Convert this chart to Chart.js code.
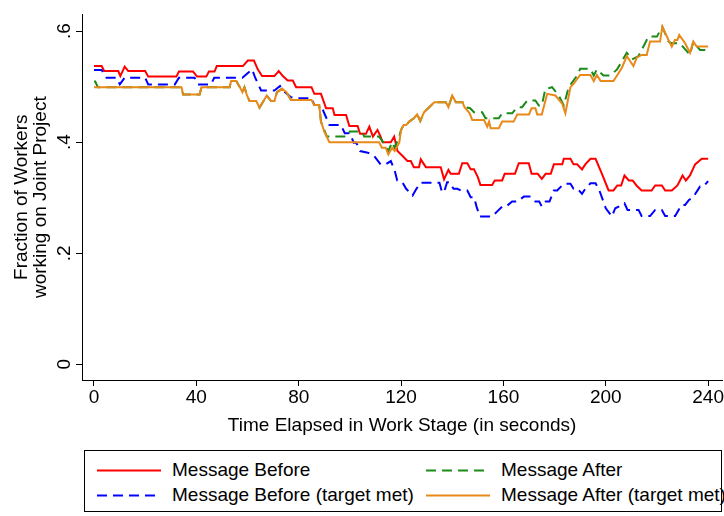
<!DOCTYPE html>
<html>
<head>
<meta charset="utf-8">
<script src="https://cdn.jsdelivr.net/npm/chart.js@4.4.1/dist/chart.umd.min.js"></script>
<style>
  body { margin: 0; background: #fff; font-family: "Liberation Sans", Arial, sans-serif; }
  #wrap { position: relative; width: 724px; height: 516px; }
  #chartBox { position: absolute; left: 0; top: 0; width: 724px; height: 440px; }
  #legend { position: absolute; left: 84px; top: 450px; width: 638px; height: 62px;
            border: 1px solid #000; box-sizing: border-box; }
  .item { position: absolute; height: 22px; font-size: 19px; line-height: 22px; color: #000; white-space: nowrap; }
  .item svg { position: absolute; left: 0; top: 10px; }
  .item span { position: absolute; left: 75px; top: 0; }
</style>
</head>
<body>
<div id="wrap">
  <div id="chartBox"><canvas id="chart"></canvas></div>
  <div id="legend"></div>
</div>
<script>
// Axes
const xTicks = [0, 40, 80, 120, 160, 200, 240];
const yTicks = [0, 0.2, 0.4, 0.6];
const yTickLabels = ['0', '.2', '.4', '.6'];

// Message Before (solid red)
const redT = [0, 3, 4, 9.5, 10.3, 12, 13.4, 20, 21.2, 32.2, 33.2, 38.7, 40.3, 43.9, 44.9, 47.1, 48, 58.2, 60.1, 62.5,
  64, 65.7, 70.5, 72.2, 73.8, 75.7, 77.7, 79, 85, 86.1, 88.7, 90.7, 93.3, 94, 98.5, 99.8, 103, 104, 106.3, 107.6,
  109, 110.8, 112, 112.8, 116, 117.3, 118.6, 120.6, 122.5, 123.8, 125, 127, 127.7, 129.7, 135.5, 136.8, 138.5, 139.4,
  142.6, 143.9, 145.9, 147.2, 148.5, 150, 151, 155.6, 156.6, 159.5, 160.5, 164.5, 166, 169.9, 171, 173.4, 175, 176.5,
  178.5, 179.7, 183, 183.6, 186.2, 187.4, 188.8, 190.7, 192, 194, 196, 198.5, 201.1, 203, 204.5, 206, 207.3, 209,
  210.5, 212, 214, 217.9, 219.3, 221.9, 223.2, 225.8, 228, 230, 231.3, 232.9, 234.9, 237.5, 240];
const redV = [.537, .537, .528, .528, .519, .536, .528, .528, .518, .518, .527, .527, .518, .518, .527, .527, .537, .537, .547, .547,
  .531, .519, .519, .528, .519, .511, .511, .499, .499, .487, .487, .461, .461, .449, .449, .429, .429, .415, .415, .428,
  .41, .422, .41, .40, .40, .41, .384, .375, .366, .366, .355, .355, .369, .355, .355, .333, .35, .343,
  .343, .362, .362, .351, .351, .337, .323, .323, .331, .331, .343, .343, .362, .362, .343, .343, .334, .343,
  .343, .36, .36, .37, .37, .36, .36, .351, .36, .37, .37, .343, .313, .313, .322, .322, .34, .331,
  .331, .322, .313, .313, .322, .322, .313, .313, .322, .34, .331, .34, .36, .37, .37];

// Message Before (target met) (dashed blue)
const blueT = [0, 3, 4.9, 8.8, 10.1, 12, 20, 21.2, 31.6, 33.2, 39.3, 40.6, 45.7, 47, 58, 61.8, 63, 64.2, 65.3, 70.5,
  72.7, 73.8, 77, 79, 85, 86.1, 88.7, 90, 92, 96.5, 98, 100, 101.5, 102.5, 104, 107, 109.5, 112, 114, 116,
  117.5, 118.5, 120.5, 122, 124.5, 126, 127.7, 135, 136, 136.8, 138, 139, 140.5, 142, 143.3, 145.9, 147.2, 148.5, 149.5, 150.8,
  155.6, 157.5, 159.5, 161, 163.4, 165.4, 168, 170.6, 172.5, 174, 175, 176.5, 178, 179.7, 181, 183.6, 186.2, 187.4, 189, 190.7,
  192, 194, 196, 197.5, 200, 202.4, 203.7, 205.5, 207.3, 208.5, 212.8, 214, 217.3, 219.3, 221.9, 223.2, 227.1, 229.6, 231, 232.5,
  234, 236.8, 238.1, 240];
const blueV = [.530, .530, .516, .516, .504, .516, .516, .504, .504, .516, .516, .504, .504, .516, .516, .531, .516, .504, .493, .493,
  .501, .493, .481, .479, .479, .467, .467, .452, .431, .431, .416, .416, .399, .399, .384, .381, .375, .36, .36, .366,
  .349, .331, .328, .316, .304, .316, .327, .327, .31, .31, .328, .328, .316, .316, .313, .313, .301, .301, .284, .266,
  .266, .275, .284, .284, .293, .293, .302, .302, .293, .293, .284, .293, .293, .313, .313, .325, .325, .316, .316, .307,
  .316, .326, .326, .313, .281, .266, .281, .285, .29, .278, .278, .267, .267, .278, .278, .267, .267, .287, .287, .296,
  .30, .32, .32, .33];

// Message After (dashed green)
const greenT = [0, 0.5, 1.5, 34.2, 34.8, 41.3, 42, 53, 53.6, 55.6, 57, 58, 58.8, 59.8, 60.8, 63.4, 64.7, 66.5, 67.5, 69.2,
  70.5, 71.5, 73.5, 75.2, 77, 85, 86.1, 88, 88.7, 91, 99, 100, 104.8, 105.6, 111.4, 113, 115, 116.5, 117.5, 119.3,
  120, 121, 122, 123.2, 125, 126.3, 127.5, 129, 131, 133, 137.5, 138.5, 140, 141.4, 144, 144.8, 147, 148.5, 151.7, 153,
  158.2, 159.5, 163.4, 165.4, 167.3, 169.3, 172.5, 173.8, 175, 176.4, 177.7, 179, 181.6, 183.6, 185.5, 188.8, 190, 194, 195.3, 196.5,
  199.1, 201.8, 204.4, 205.6, 208.2, 210.2, 212.8, 214, 216.7, 220, 222.1, 224.5, 225.8, 229, 232.9, 234.2, 236.8, 240];
const greenV = [.509, .509, .499, .499, .486, .486, .499, .499, .51, .51, .499, .49, .499, .484, .474, .474, .462, .476, .484, .474,
  .474, .49, .496, .49, .476, .476, .467, .467, .437, .41, .41, .419, .419, .41, .41, .40, .384, .40, .39, .41,
  .422, .431, .431, .437, .443, .45, .438, .454, .463, .472, .472, .463, .484, .472, .472, .463, .461, .454, .454, .443,
  .443, .452, .452, .463, .463, .475, .475, .466, .466, .496, .497, .499, .484, .466, .499, .52, .532, .532, .52, .531,
  .52, .52, .531, .54, .561, .549, .555, .566, .59, .59, .608, .581, .578, .578, .557, .581, .566, .566];

// Message After (target met) (solid orange)
const orangeT = [0, 34.2, 34.8, 41.3, 42, 53, 53.6, 55.6, 57, 58, 58.8, 59.8, 60.8, 63.4, 64.7, 66.5, 67.5, 69.2, 70.5, 71.5,
  73.5, 75.2, 77, 85, 86.1, 88, 88.7, 90, 92, 111.4, 112.5, 114, 115, 116.5, 117.5, 119.3, 120, 121, 122, 123.2,
  125, 126.3, 127.5, 129, 131, 133, 137.5, 138.5, 140, 141.4, 144, 144.8, 146.8, 147.8, 152.4, 153.7, 154.4, 155, 158.2, 159.5,
  164, 165.4, 170, 171, 172.5, 173.2, 175, 177.1, 180.3, 183, 184.2, 186.2, 187.4, 190, 194, 195.3, 196.5, 198, 203, 204.4,
  206.3, 208.2, 210.8, 212.1, 214, 216, 217.3, 221.2, 222.1, 224.5, 225.8, 227, 228, 228.7, 231, 232.9, 234.2, 235.5, 240];
const orangeV = [.499, .499, .486, .486, .499, .499, .51, .51, .499, .49, .499, .484, .474, .474, .462, .476, .484, .474, .474, .49,
  .496, .49, .476, .476, .467, .467, .437, .419, .40, .40, .39, .39, .378, .39, .384, .399, .422, .431, .431, .437,
  .443, .45, .438, .454, .463, .472, .472, .463, .484, .472, .472, .463, .452, .44, .44, .428, .437, .425, .425, .437,
  .437, .45, .45, .461, .461, .45, .45, .487, .484, .469, .452, .499, .505, .521, .521, .51, .521, .51, .51, .52,
  .534, .555, .537, .552, .557, .557, .581, .581, .608, .584, .572, .584, .584, .593, .578, .561, .581, .572, .572];

const FONT = '"Liberation Sans", Arial, sans-serif';

function pts(ts, vs) {
  return ts.map((t, i) => ({ x: t, y: vs[i] }));
}

const series = [
  { label: 'Message Before', t: redT, v: redV, color: '#ff0000', dash: [], order: 3 },
  { label: 'Message After', t: greenT, v: greenV, color: '#1a8a1a', dash: [10, 6], order: 1 },
  { label: 'Message Before (target met)', t: blueT, v: blueV, color: '#0000ff', dash: [10, 6], order: 2 },
  { label: 'Message After (target met)', t: orangeT, v: orangeV, color: '#e8891a', dash: [], order: 0 }
];

new Chart(document.getElementById('chart'), {
  type: 'line',
  data: {
    datasets: series.map(s => ({
      label: s.label,
      data: pts(s.t, s.v),
      borderColor: s.color,
      backgroundColor: s.color,
      borderWidth: 2,
      borderDash: s.dash,
      pointRadius: 0,
      tension: 0,
      fill: false,
      order: s.order
    }))
  },
  options: {
    responsive: true,
    maintainAspectRatio: false,
    animation: false,
    layout: { padding: { top: 7, right: 0, bottom: 0, left: 0 } },
    plugins: { legend: { display: false }, tooltip: { enabled: false } },
    scales: {
      x: {
        type: 'linear',
        min: -4.68,
        max: 245.5,
        afterBuildTicks: s => { s.ticks = xTicks.map(v => ({ value: v })); },
        afterFit: s => { s.height = 60; },
        ticks: { color: '#000', font: { size: 19, family: FONT }, padding: 0, maxRotation: 0, autoSkip: false },
        grid: { drawOnChartArea: false, color: '#000', tickLength: 6, tickColor: '#000' },
        border: { color: '#000', width: 1 },
        title: { display: true, text: 'Time Elapsed in Work Stage (in seconds)', color: '#000',
                 font: { size: 19, family: FONT }, padding: { top: 0, bottom: 3 } }
      },
      y: {
        min: -0.0282,
        max: 0.63,
        afterBuildTicks: s => { s.ticks = yTicks.map(v => ({ value: v })); },
        afterFit: s => { s.width = 82; },
        ticks: {
          color: '#000', font: { size: 19, family: FONT }, padding: 3, minRotation: 90, maxRotation: 90,
          crossAlign: 'center',
          callback: v => { const i = yTicks.findIndex(y => Math.abs(y - v) < 1e-6); return i >= 0 ? yTickLabels[i] : ''; }
        },
        grid: { drawOnChartArea: false, color: '#000', tickLength: 6, tickColor: '#000' },
        border: { color: '#000', width: 1 },
        title: { display: true, text: ['Fraction of Workers', 'working on Joint Project'], color: '#000',
                 font: { size: 19, family: FONT, lineHeight: 1.0 }, padding: { top: 12, bottom: 0 } }
      }
    }
  }
});

// Legend (two columns, Stata style)
const legendPos = [
  { col: 0, row: 0 }, { col: 1, row: 0 }, { col: 0, row: 1 }, { col: 1, row: 1 }
];
const legendEl = document.getElementById('legend');
series.forEach((s, i) => {
  const p = legendPos[i];
  const item = document.createElement('div');
  item.className = 'item';
  item.style.left = (p.col === 0 ? 12 : 341) + 'px';
  item.style.top = (p.row === 0 ? 8 : 33) + 'px';
  const dash = s.dash.length ? ` stroke-dasharray="${s.dash.join(',')}"` : '';
  item.innerHTML = `<svg width="64" height="3"><line x1="0" y1="1.5" x2="64" y2="1.5" stroke="${s.color}" stroke-width="2"${dash}/></svg><span>${s.label}</span>`;
  legendEl.appendChild(item);
});
</script>
</body>
</html>
